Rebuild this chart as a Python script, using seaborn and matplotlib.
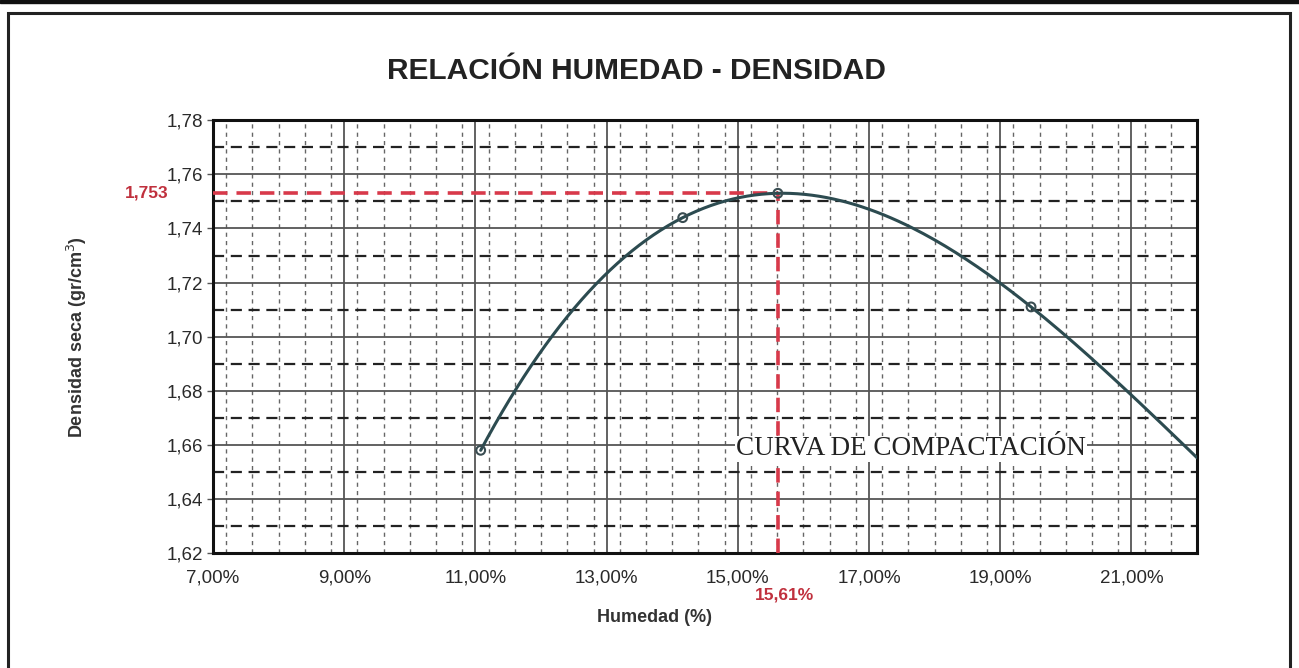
import numpy as np
import pandas as pd
import matplotlib
matplotlib.use("Agg")
import matplotlib.pyplot as plt
import seaborn as sns
from matplotlib.ticker import MultipleLocator, FuncFormatter
from matplotlib.patches import Rectangle

# data
humedad = [11.08, 14.16, 15.61, 19.47]
densidad = [1.658, 1.744, 1.753, 1.711]
w_optima = 15.61
d_maxima = 1.753
x_ticks = [7, 9, 11, 13, 15, 17, 19, 21]
y_ticks = [1.62, 1.64, 1.66, 1.68, 1.70, 1.72, 1.74, 1.76, 1.78]


def main():
    sns.set_theme(style="white")
    plt.rcParams["font.family"] = ["Liberation Sans", "DejaVu Sans"]

    fig = plt.figure(figsize=(12.99, 6.68), dpi=100)
    ax = fig.add_axes([0.164, 0.172, 0.7575, 0.648])

    # trend curve (3rd order polynomial through the test points, forecast to 22 %)
    coef = np.polyfit(humedad, densidad, 3)
    xs = np.linspace(humedad[0], 22, 200)
    curve = pd.DataFrame({"w": xs, "d": np.polyval(coef, xs)})
    pts = pd.DataFrame({"w": humedad, "d": densidad})

    ax.set_xlim(7, 22)
    ax.set_ylim(1.62, 1.78)

    # grid
    ax.set_xticks(x_ticks)
    ax.set_yticks(y_ticks)
    ax.xaxis.set_minor_locator(MultipleLocator(0.4))
    ax.yaxis.set_minor_locator(MultipleLocator(0.01))
    ax.grid(which="major", color="#555555", linewidth=1.3, linestyle="-")
    ax.grid(which="minor", axis="y", color="#222222", linewidth=1.6,
            linestyle=(0, (5, 3)))
    ax.grid(which="minor", axis="x", color="#666666", linewidth=1.0,
            linestyle=(0, (3, 3)))
    ax.set_axisbelow(True)

    # red reference lines for optimum
    ax.plot([7, w_optima], [d_maxima, d_maxima], color="#d8394a",
            linewidth=2.6, linestyle=(0, (4, 2.5)), zorder=3)
    ax.plot([w_optima, w_optima], [1.62, d_maxima], color="#d8394a",
            linewidth=2.6, linestyle=(0, (4, 2.5)), zorder=3)

    sns.lineplot(data=curve, x="w", y="d", ax=ax, color="#2c4b50",
                 linewidth=2.2, zorder=4)
    sns.scatterplot(data=pts, x="w", y="d", ax=ax, s=40, marker="o",
                    facecolor="none", edgecolor="#3a4d52", linewidth=1.5,
                    zorder=5)

    ax.xaxis.set_major_formatter(
        FuncFormatter(lambda v, p: f"{v:.2f}%".replace(".", ",")))
    ax.yaxis.set_major_formatter(
        FuncFormatter(lambda v, p: f"{v:.2f}".replace(".", ",")))
    ax.tick_params(axis="both", which="major", labelsize=13.5,
                   labelcolor="#2a2a2a")
    ax.tick_params(axis="y", which="major", left=True, length=4, width=1,
                   color="#555555", pad=3)
    ax.tick_params(axis="x", which="both", bottom=False, pad=6)
    ax.tick_params(axis="y", which="minor", left=False)

    for s in ax.spines.values():
        s.set_color("#111111")
        s.set_linewidth(2.2)

    ax.set_xlabel("Humedad (%)", fontsize=13, fontweight="bold",
                  color="#333333")
    ax.xaxis.set_label_coords(0.449, -0.13)
    ax.set_ylabel("Densidad seca (gr/cm$^3$)", fontsize=13,
                  fontweight="bold", color="#333333", labelpad=56)
    ax.set_title("RELACIÓN HUMEDAD - DENSIDAD", fontsize=21.5,
                 fontweight="bold", color="#222222", pad=30, x=0.43)

    # optimum labels
    ax.annotate("1,753", xy=(0, d_maxima), xycoords=("axes fraction", "data"),
                xytext=(-48, 0), textcoords="offset points", ha="center",
                va="center", fontsize=12.5, fontweight="bold",
                color="#c0303d")
    ax.annotate("15,61%", xy=(w_optima, 0), xycoords=("data", "axes fraction"),
                xytext=(5, -30), textcoords="offset points", ha="center",
                va="center", fontsize=12.5, fontweight="bold",
                color="#c0303d")

    ax.text(17.64, 1.6585, "CURVA DE COMPACTACIÓN", ha="center", va="center",
            fontsize=19.5, family=["Liberation Serif", "DejaVu Serif"],
            color="#222222", zorder=6,
            bbox=dict(facecolor="white", edgecolor="none", pad=0.5))

    # outer frame of the sheet
    fig.patches.append(Rectangle((8 / 1299, -0.05), 1282 / 1299, 1.05 - 13 / 668,
                                 transform=fig.transFigure, fill=False,
                                 edgecolor="#222222", linewidth=2.2))
    fig.patches.append(Rectangle((0, 1 - 3 / 668), 1, 3 / 668,
                                 transform=fig.transFigure, color="#111111"))

    fig.savefig("out.png", dpi=100)


if __name__ == "__main__":
    main()
